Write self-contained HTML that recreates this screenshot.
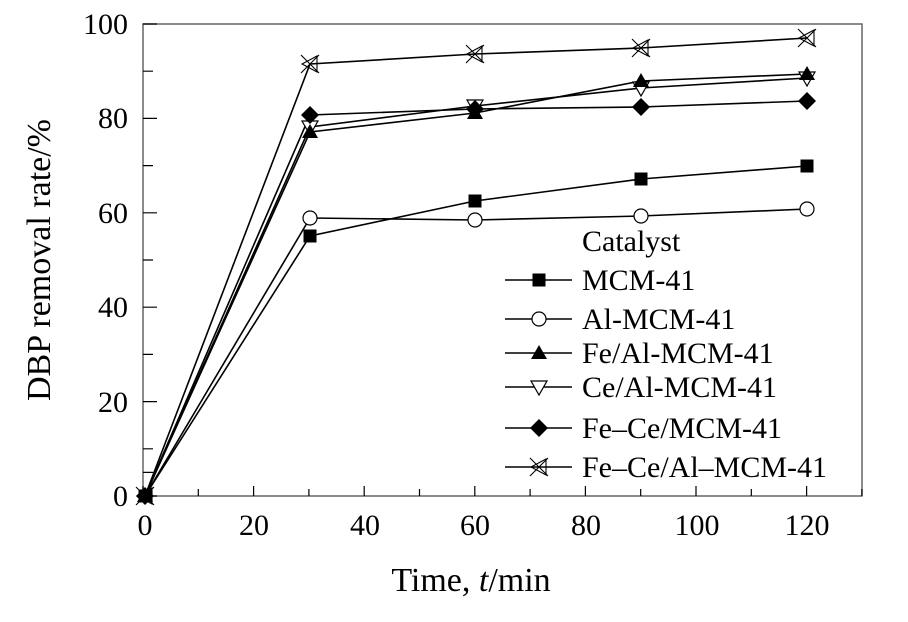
<!DOCTYPE html>
<html><head><meta charset="utf-8"><style>body{margin:0;background:#fff}svg{display:block}text{font-family:"Liberation Serif",serif;fill:#000}</style></head><body>
<svg width="908" height="622" xmlns="http://www.w3.org/2000/svg">
<defs>
<g id="sq"><rect x="-6.5" y="-6.5" width="13" height="13" fill="#000"/></g>
<g id="ci"><circle r="7" fill="#fff" stroke="#000" stroke-width="1.2"/></g>
<g id="tu"><polygon points="0,-8 8,6 -8,6" fill="#000"/></g>
<g id="td"><polygon points="-8,-6 8,-6 0,8" fill="#fff" stroke="#000" stroke-width="1.2"/></g>
<g id="di"><polygon points="0,-9 9,0 0,9 -9,0" fill="#000"/></g>
<g id="xx" fill="none" stroke="#000" stroke-width="1.1"><path d="M-9,-9L9,9M-9,9L9,-9M7,-8L-8,0L7,8Z"/></g>
</defs>
<rect x="143" y="24" width="719" height="472" fill="none" stroke="#666" stroke-width="1.5"/>
<g stroke="#000" stroke-width="1.2">
<path d="M143,496V486M198.3,496V489M253.6,496V486M308.9,496V489M364.2,496V486M419.5,496V489M474.8,496V486M530.1,496V489M585.4,496V486M640.7,496V489M696,496V486M751.3,496V489M806.6,496V486M861.9,496V489"/>
<path d="M143,496H157M143,472.4H153M143,401.6H157M143,354.4H153M143,307.2H157M143,260H153M143,212.8H157M143,165.6H153M143,118.4H157M143,71.2H153M143,24H157M143,448.8H153"/>
</g>
<g font-size="30" text-anchor="middle">
<text x="145" y="535">0</text><text x="254" y="535">20</text><text x="365" y="535">40</text><text x="475" y="535">60</text><text x="586" y="535">80</text><text x="697" y="535">100</text><text x="807" y="535">120</text>
</g>
<g font-size="30" text-anchor="end">
<text x="128" y="506">0</text><text x="128" y="412">20</text><text x="128" y="317">40</text><text x="128" y="223">60</text><text x="128" y="128">80</text><text x="128" y="34">100</text>
</g>
<text x="471" y="591" font-size="34" text-anchor="middle">Time, <tspan font-style="italic">t</tspan>/min</text>
<text transform="translate(50,260) rotate(-90)" font-size="34" text-anchor="middle">DBP removal rate/%</text>
<g fill="none" stroke="#000" stroke-width="1.6">
<polyline points="145,496 310,236 475,201 641,179 807,166"/>
<polyline points="145,496 310,218 475,220 641,216 807,209"/>
<polyline points="145,496 310,132 475,113 641,81 807,74"/>
<polyline points="145,496 310,127 475,106 641,88 807,78"/>
<polyline points="145,496 310,115 475,109 641,107 807,101"/>
<polyline points="145,496 310,64 475,54 641,48 807,38"/>
</g>
<g>
<use href="#sq" x="310" y="236"/><use href="#sq" x="475" y="201"/><use href="#sq" x="641" y="179"/><use href="#sq" x="807" y="166"/>
<use href="#ci" x="310" y="218"/><use href="#ci" x="475" y="220"/><use href="#ci" x="641" y="216"/><use href="#ci" x="807" y="209"/>
<use href="#td" x="310" y="127"/><use href="#td" x="475" y="106"/><use href="#td" x="641" y="88"/><use href="#td" x="807" y="78"/>
<use href="#tu" x="310" y="132"/><use href="#tu" x="475" y="113"/><use href="#tu" x="641" y="81"/><use href="#tu" x="807" y="74"/>
<use href="#di" x="310" y="115"/><use href="#di" x="475" y="109"/><use href="#di" x="641" y="107"/><use href="#di" x="807" y="101"/>
<use href="#xx" x="310" y="64"/><use href="#xx" x="475" y="54"/><use href="#xx" x="641" y="48"/><use href="#xx" x="807" y="38"/>
<use href="#sq" x="145" y="496"/><use href="#di" x="145" y="496"/><use href="#tu" x="145" y="496"/><use href="#xx" x="145" y="496"/>
</g>
<g stroke="#000" stroke-width="1.6">
<path d="M505,280H572M505,319H572M505,353H572M505,387H572M505,428H572M505,467H572"/>
</g>
<use href="#sq" x="539" y="280"/><use href="#ci" x="539" y="319"/><use href="#tu" x="539" y="353"/><use href="#td" x="539" y="387"/><use href="#di" x="539" y="428"/><use href="#xx" x="539" y="467"/>
<g font-size="30">
<text x="582" y="251">Catalyst</text>
<text x="582" y="290">MCM-41</text>
<text x="582" y="329">Al-MCM-41</text>
<text x="582" y="363">Fe/Al-MCM-41</text>
<text x="582" y="397">Ce/Al-MCM-41</text>
<text x="582" y="438">Fe–Ce/MCM-41</text>
<text x="582" y="477">Fe–Ce/Al–MCM-41</text>
</g>
</svg>
</body></html>
